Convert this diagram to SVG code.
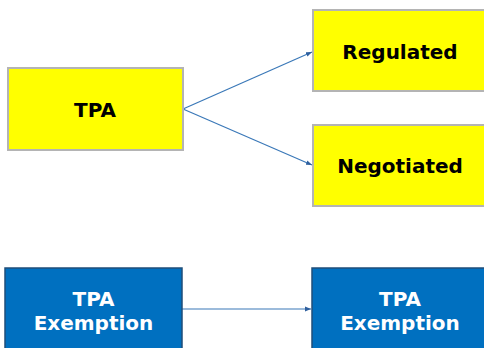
<svg xmlns="http://www.w3.org/2000/svg" width="484" height="348" viewBox="0 0 484 348">
<style>
.y{fill:#ffff00;stroke:#b4b4b4;stroke-width:2}
.b{fill:#0070c0;stroke:#1f4e79;stroke-width:1.5}
.t{font-family:"DejaVu Sans",Verdana,sans-serif;font-weight:bold;font-size:20px;text-anchor:middle}
.tk{fill:#000}
.tw{fill:#fff}
.c{stroke:#3a78b8;stroke-width:1.2;fill:none}
</style>
<defs>
<marker id="ah" viewBox="0 0 10 10" refX="10" refY="5" markerWidth="6" markerHeight="6" orient="auto" markerUnits="userSpaceOnUse">
<path d="M0,1 L10,5 L0,9 Z" fill="#2e5f9e"/>
</marker>
</defs>
<rect width="484" height="348" fill="#fff"/>
<g id="connectors">
<line class="c" x1="183" y1="109" x2="312" y2="52" marker-end="url(#ah)"/>
<line class="c" x1="183" y1="109" x2="312" y2="165" marker-end="url(#ah)"/>
<line class="c" x1="182" y1="309" x2="311" y2="309" marker-end="url(#ah)"/>
</g>
<g id="tpa">
<rect class="y" x="8" y="68" width="175" height="82"/>
<text class="t tk" x="95" y="117">TPA</text>
</g>
<g id="regulated">
<rect class="y" x="313" y="10" width="180" height="81"/>
<text class="t tk" x="400" y="59">Regulated</text>
</g>
<g id="negotiated">
<rect class="y" x="313" y="125" width="180" height="81"/>
<text class="t tk" x="400" y="173">Negotiated</text>
</g>
<g id="exemption-left">
<rect class="b" x="5" y="268" width="177" height="90"/>
<text class="t tw" x="93.5" y="306">TPA</text>
<text class="t tw" x="93.5" y="330">Exemption</text>
</g>
<g id="exemption-right">
<rect class="b" x="312" y="268" width="180" height="90"/>
<text class="t tw" x="400" y="306">TPA</text>
<text class="t tw" x="400" y="330">Exemption</text>
</g>
</svg>
